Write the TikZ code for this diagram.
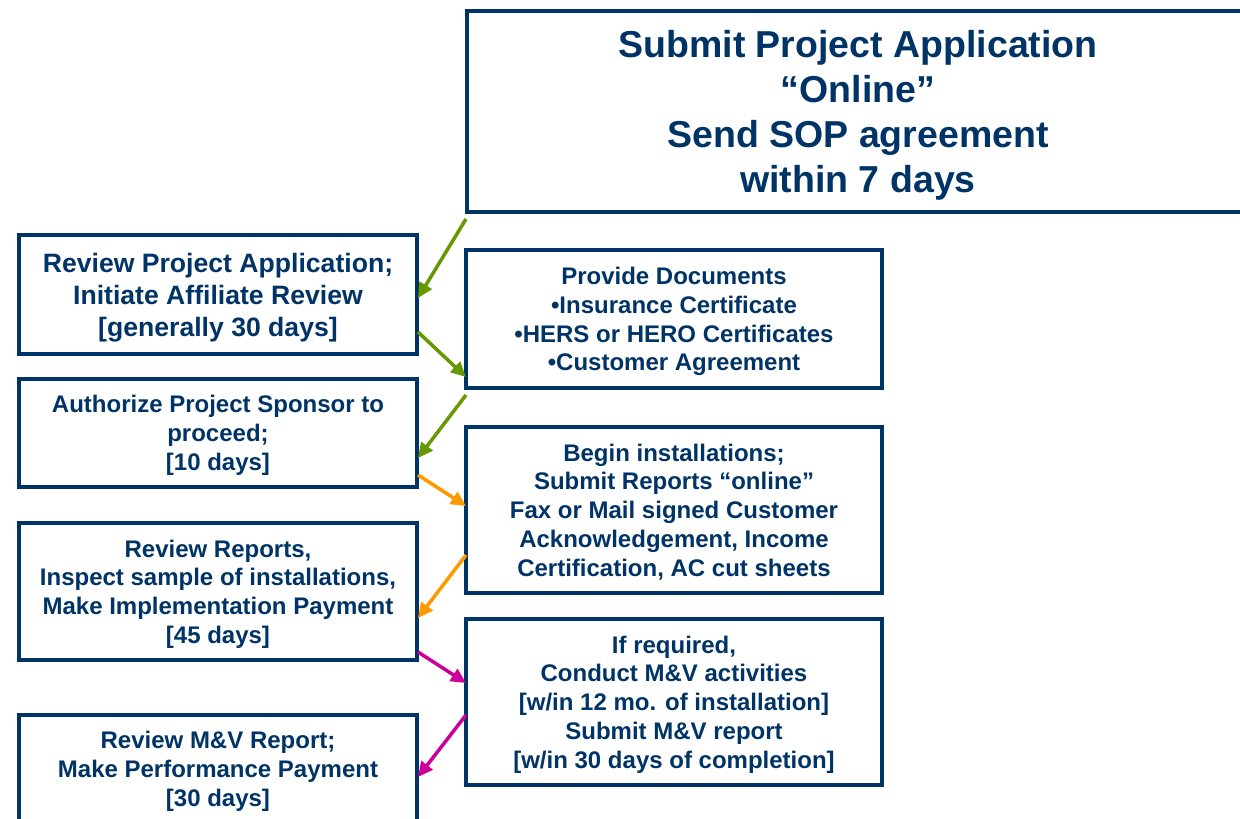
\documentclass[tikz,border=0pt]{standalone}
\usepackage{fontspec}
\setmainfont{Liberation Sans}
\usetikzlibrary{arrows.meta,calc}
\definecolor{navy}{HTML}{003366}
\definecolor{agreen}{HTML}{669900}
\definecolor{aorange}{HTML}{FF9900}
\definecolor{amagenta}{HTML}{CC0099}
\begin{document}
\begin{tikzpicture}[x=1pt,y=-1pt,
  box/.style={draw=navy,line width=4pt,fill=white,inner sep=0pt,outer sep=0pt,
    align=center,text=navy,text depth=0pt,font=\bfseries\fontsize{24pt}{28.8pt}\selectfont},
  lbox/.style={box,minimum width=398pt},
  rbox/.style={box,minimum width=416pt},
  conn/.style={line width=3.5pt,-{Triangle[length=15pt,width=14pt]}}]
\useasboundingbox (0,0) rectangle (1240,819);
\fill[white] (0,0) rectangle (1240,819);
\node[box,minimum width=782pt,minimum height=201pt,
  font=\bfseries\fontsize{37.5pt}{45pt}\selectfont] (T) at (858,111.5)
  {Submit Project Application\\“Online”\\Send SOP agreement\\within 7 days};
\node[lbox,minimum height=119pt,font=\bfseries\fontsize{26.6pt}{32pt}\selectfont] (L1) at (218,294.5)
  {Review Project Application;\\Initiate Affiliate Review\\{}[generally 30 days]};
\node[lbox,minimum height=108pt] (L2) at (218,433)
  {Authorize Project Sponsor to\\proceed;\\{}[10 days]};
\node[lbox,minimum height=137pt] (L3) at (218,591.5)
  {Review Reports,\\Inspect sample of installations,\\Make Implementation Payment\\{}[45 days]};
\node[lbox,minimum height=108pt] (L4) at (218,769)
  {Review M\&V Report;\\Make Performance Payment\\{}[30 days]};
\node[rbox,minimum height=138pt] (R1) at (674,319)
  {Provide Documents\\•Insurance Certificate\\•HERS or HERO Certificates\\•Customer Agreement};
\node[rbox,minimum height=166pt] (R2) at (674,510)
  {Begin installations;\\Submit Reports “online”\\Fax or Mail signed Customer\\Acknowledgement, Income\\Certification, AC cut sheets};
\node[rbox,minimum height=166pt] (R3) at (674,702)
  {If required,\\Conduct M\&V activities\\{}[w/in 12 mo. of installation]\\Submit M\&V report\\{}[w/in 30 days of completion]};
\draw[conn,agreen] ($(T.south west)+(-1,7)$) -- ($(L1.east)+(1,3.5)$);
\draw[conn,agreen] ($(L1.south east)+(1,-22)$) -- ($(R1.south west)+(0,-11)$);
\draw[conn,agreen] ($(R1.south west)+(0,7)$) -- ($(L2.east)+(1,25)$);
\draw[conn,aorange] ($(L2.east)+(1,42)$) -- ($(R2.west)+(0,-4)$);
\draw[conn,aorange] ($(R2.west)+(0,45)$) -- ($(L3.east)+(1,26.5)$);
\draw[conn,amagenta] ($(L3.south east)+(1,-8)$) -- ($(R3.west)+(0,-19)$);
\draw[conn,amagenta] ($(R3.west)+(0,13)$) -- ($(L4.east)+(1,8)$);
\end{tikzpicture}
\end{document}
